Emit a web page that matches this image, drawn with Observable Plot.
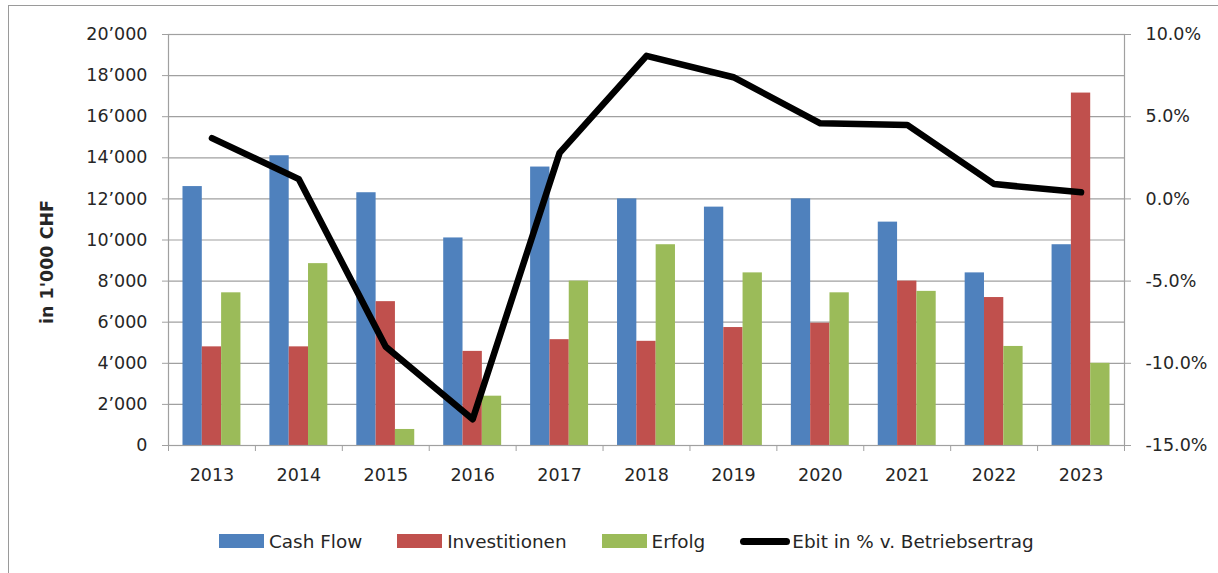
<!DOCTYPE html>
<html>
<head>
<meta charset="utf-8">
<script src="https://cdn.jsdelivr.net/npm/d3@7"></script>
<script src="https://cdn.jsdelivr.net/npm/@observablehq/plot@0.6"></script>
<style>
  html, body { margin: 0; padding: 0; background: #fff; }
  #wrap { position: relative; width: 1218px; height: 573px; overflow: hidden; font-family: "DejaVu Sans", sans-serif; color: #262626; }
  #border { position: absolute; left: 8px; top: 5px; width: 1400px; height: 800px; border: 1px solid #9a9a9a; box-sizing: border-box; pointer-events: none; }
  #chart { position: absolute; left: 0; top: 0; }
  #legend { position: absolute; left: 219px; top: 530px; height: 22px; display: flex; align-items: center; font-size: 18.4px; white-space: nowrap; }
  .item { display: flex; align-items: center; margin-right: 35px; }
  .sw { width: 45px; height: 14px; margin-right: 5px; }
  .ln { width: 50px; height: 7px; border-radius: 4px; background: #000; margin-right: 2px; }
</style>
</head>
<body>
<div id="wrap">
  <div id="border"></div>
  <div id="chart"></div>
  <div id="legend"></div>
</div>
<script>
// ---- data ----
const years = [2013, 2014, 2015, 2016, 2017, 2018, 2019, 2020, 2021, 2022, 2023];
const cashFlow = [12600, 14100, 12300, 10100, 13550, 12000, 11600, 12000, 10870, 8400, 9770];
const investitionen = [4800, 4800, 7000, 4580, 5150, 5070, 5740, 5950, 8000, 7200, 17150];
const erfolg = [7430, 8850, 780, 2400, 8000, 9770, 8400, 7430, 7500, 4820, 4000];
const ebitPct = [3.7, 1.2, -9.0, -13.4, 2.8, 8.7, 7.4, 4.6, 4.5, 0.9, 0.4];
const leftTicks = [0, 2000, 4000, 6000, 8000, 10000, 12000, 14000, 16000, 18000, 20000];
const rightTicks = [-15, -10, -5, 0, 5, 10];
const seriesNames = ["Cash Flow", "Investitionen", "Erfolg", "Ebit in % v. Betriebsertrag"];
const colors = ["#4F81BD", "#C0504D", "#9BBB59", "#000000"];

// ---- derived ----
const rows = years.map((y, i) => ({year: y, cash: cashFlow[i], inv: investitionen[i], erf: erfolg[i], ebit: ebitPct[i]}));
const pctMin = -15, pctMax = 10, yMax = 20000;
const k = yMax / (pctMax - pctMin);
const toLeft = p => (p - pctMin) * k;
const fromLeft = v => v / k + pctMin;

const loc = d3.formatLocale({decimal: ".", thousands: "\u2019", grouping: [3], currency: ["", ""]});
const fmt = loc.format(",");

// Excel-like clustered bars: gap width 150% => bar = 1/4.5 of category
const bw = 1 / 4.5;
const start = -1.5 * bw;
const barOpt = (j, key) => ({
  x1: d => d.year + start + j * bw,
  x2: d => d.year + start + (j + 1) * bw,
  y: key,
  fill: colors[j]
});

const boundaries = years.map(y => y - 0.5).concat([years[years.length - 1] + 0.5]);

const chart = Plot.plot({
  width: 1218,
  height: 500,
  marginLeft: 168,
  marginRight: 94,
  marginTop: 34,
  marginBottom: 55,
  style: {fontFamily: "DejaVu Sans, sans-serif", fontSize: "17.5px", color: "#262626", background: "transparent"},
  x: {type: "linear", domain: [years[0] - 0.5, years[years.length - 1] + 0.5]},
  y: {domain: [0, yMax]},
  marks: [
    Plot.gridY(leftTicks, {stroke: "#a0a0a0", strokeOpacity: 1, strokeWidth: 1.2}),
    Plot.rectY(rows, barOpt(0, "cash")),
    Plot.rectY(rows, barOpt(1, "inv")),
    Plot.rectY(rows, barOpt(2, "erf")),
    Plot.frame({stroke: "#a0a0a0", strokeWidth: 1.2}),
    Plot.line(rows, {x: "year", y: d => toLeft(d.ebit), stroke: "#000", strokeWidth: 6.5, strokeLinecap: "round", strokeLinejoin: "round"}),
    Plot.axisY({ticks: leftTicks, tickFormat: fmt, tickSize: 6, tickPadding: 15, stroke: "#a0a0a0", label: null, fontSize: 17.5}),
    Plot.axisY({anchor: "right", ticks: rightTicks.map(toLeft), tickFormat: v => fromLeft(v).toFixed(1) + "%", tickSize: 6, tickPadding: 15, stroke: "#a0a0a0", label: null, fontSize: 17.5}),
    Plot.axisX({ticks: years, tickFormat: d => String(d), tickSize: 0, tickPadding: 23, label: null, fontSize: 17.5}),
    Plot.axisX({ticks: boundaries, tickFormat: () => "", tickSize: 6, stroke: "#a0a0a0", label: null}),
    Plot.text(["in 1'000 CHF"], {frameAnchor: "left", textAnchor: "middle", rotate: -90, dx: -121.5, dy: 22, fontWeight: "bold", fontSize: 17.5, fill: "#262626"})
  ]
});
document.getElementById("chart").appendChild(chart);

// ---- legend ----
const legend = document.getElementById("legend");
seriesNames.forEach((name, i) => {
  const item = document.createElement("div");
  item.className = "item";
  const sw = document.createElement("div");
  if (i < 3) { sw.className = "sw"; sw.style.background = colors[i]; }
  else { sw.className = "ln"; }
  const t = document.createElement("span");
  t.textContent = name;
  item.appendChild(sw);
  item.appendChild(t);
  legend.appendChild(item);
});
</script>
</body>
</html>
